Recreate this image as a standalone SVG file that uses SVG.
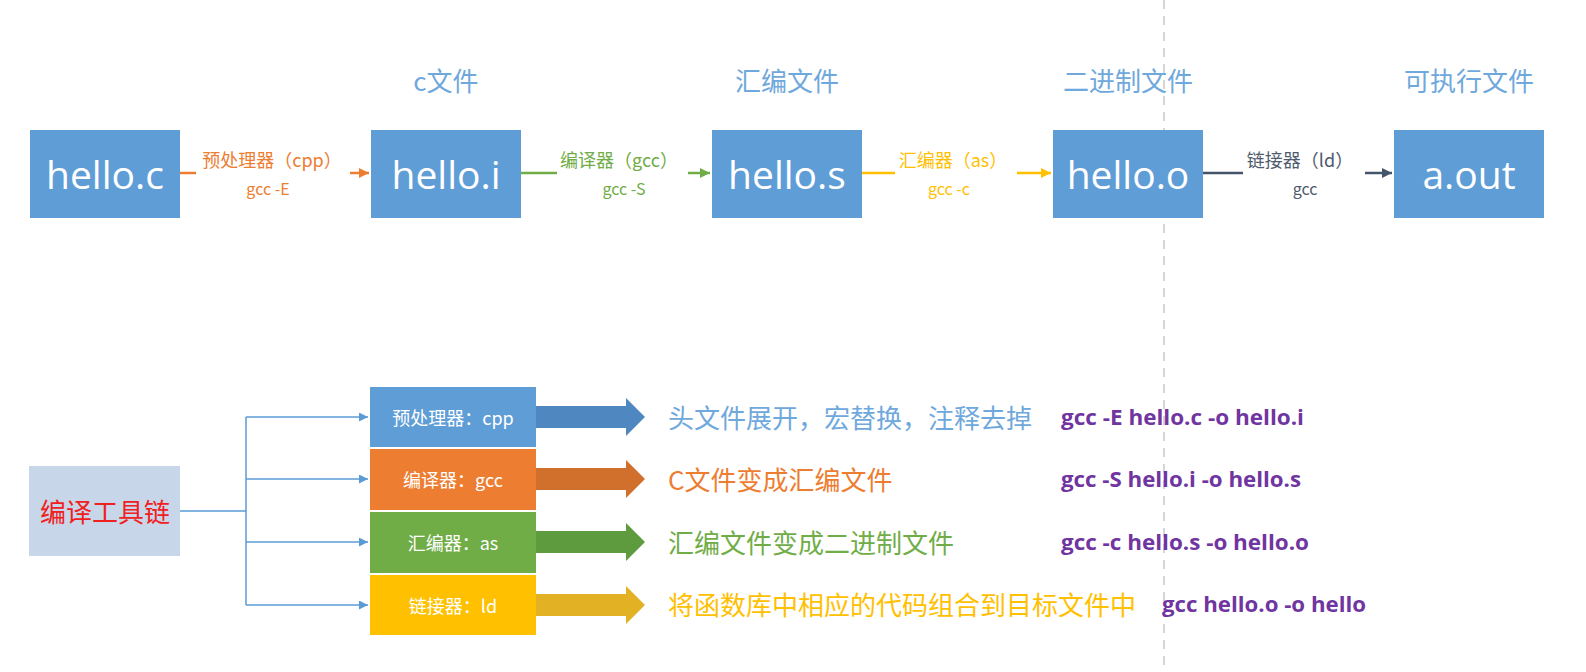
<svg xmlns="http://www.w3.org/2000/svg" width="1586" height="672" viewBox="0 0 1586 672">
<defs>
<style>
.box{fill:#5F9DD6}
.bt{font-family:"Open Sans","Liberation Sans",sans-serif;font-size:39px;fill:#fff;text-anchor:middle;dominant-baseline:central}
.top{font-family:"Noto Sans CJK SC",sans-serif;font-size:26px;fill:#6FA8DC;text-anchor:middle;dominant-baseline:central}
.lbl{font-family:"Noto Sans CJK SC",sans-serif;font-size:18px;text-anchor:middle;dominant-baseline:central}
.lbl2{font-family:"Noto Sans CJK SC",sans-serif;font-size:16px;text-anchor:middle;dominant-baseline:central}
.st{font-family:"Noto Sans CJK SC",sans-serif;font-size:18px;fill:#fff;text-anchor:middle;dominant-baseline:central}
.desc{font-family:"Noto Sans CJK SC",sans-serif;font-size:26px;dominant-baseline:central}
.cmd{font-family:"Open Sans","Liberation Sans",sans-serif;font-size:22px;font-weight:bold;fill:#7035A0;dominant-baseline:central}
.bl{stroke:#5B9BD5;stroke-width:1.5;fill:none}
</style>
<marker id="ao" viewBox="0 0 10 10" refX="10" refY="5" markerWidth="4" markerHeight="4" orient="auto"><path d="M0,0L10,5L0,10z" fill="#ED7D31"/></marker>
<marker id="ag" viewBox="0 0 10 10" refX="10" refY="5" markerWidth="4" markerHeight="4" orient="auto"><path d="M0,0L10,5L0,10z" fill="#70AD47"/></marker>
<marker id="ay" viewBox="0 0 10 10" refX="10" refY="5" markerWidth="4" markerHeight="4" orient="auto"><path d="M0,0L10,5L0,10z" fill="#FFC000"/></marker>
<marker id="ad" viewBox="0 0 10 10" refX="10" refY="5" markerWidth="4" markerHeight="4" orient="auto"><path d="M0,0L10,5L0,10z" fill="#44546A"/></marker>
<marker id="ab" viewBox="0 0 10 10" refX="10" refY="5" markerWidth="6" markerHeight="6" orient="auto"><path d="M0,0L10,5L0,10z" fill="#5B9BD5"/></marker>
</defs>
<rect width="1586" height="672" fill="#fff"/>
<line x1="1164" y1="0" x2="1164" y2="672" stroke="#bbb" stroke-width="1.2" stroke-dasharray="9,7"/>

<g id="n-helloc"><rect class="box" x="30" y="130" width="150" height="88"/><text class="bt" x="105" y="173">hello.c</text></g>
<g id="n-helloi"><text class="top" x="446" y="79">c文件</text><rect class="box" x="371" y="130" width="150" height="88"/><text class="bt" x="446" y="173">hello.i</text></g>
<g id="n-hellos"><text class="top" x="787" y="79">汇编文件</text><rect class="box" x="712" y="130" width="150" height="88"/><text class="bt" x="787" y="173">hello.s</text></g>
<g id="n-helloo"><text class="top" x="1128" y="79">二进制文件</text><rect class="box" x="1053" y="130" width="150" height="88"/><text class="bt" x="1128" y="173">hello.o</text></g>
<g id="n-aout"><text class="top" x="1469" y="79">可执行文件</text><rect class="box" x="1394" y="130" width="150" height="88"/><text class="bt" x="1469" y="173">a.out</text></g>

<g id="connectors">
<line x1="180" y1="173" x2="196" y2="173" stroke="#ED7D31" stroke-width="2.5"/>
<line x1="350" y1="173" x2="369" y2="173" stroke="#ED7D31" stroke-width="2.5" marker-end="url(#ao)"/>
<text class="lbl" x="272" y="159" fill="#ED7D31">预处理器（cpp）</text>
<text class="lbl2" x="268" y="188" fill="#ED7D31">gcc -E</text>

<line x1="521" y1="173" x2="557" y2="173" stroke="#70AD47" stroke-width="2.5"/>
<line x1="688" y1="173" x2="710" y2="173" stroke="#70AD47" stroke-width="2.5" marker-end="url(#ag)"/>
<text class="lbl" x="619" y="159" fill="#70AD47">编译器（gcc）</text>
<text class="lbl2" x="624" y="188" fill="#70AD47">gcc -S</text>

<line x1="862" y1="173" x2="895" y2="173" stroke="#FFC000" stroke-width="2.5"/>
<line x1="1017" y1="173" x2="1051" y2="173" stroke="#FFC000" stroke-width="2.5" marker-end="url(#ay)"/>
<text class="lbl" x="953" y="159" fill="#FFC000">汇编器（as）</text>
<text class="lbl2" x="949" y="188" fill="#FFC000">gcc -c</text>

<line x1="1203" y1="173" x2="1243" y2="173" stroke="#44546A" stroke-width="2.5"/>
<line x1="1365" y1="173" x2="1392" y2="173" stroke="#44546A" stroke-width="2.5" marker-end="url(#ad)"/>
<text class="lbl" x="1300" y="159" fill="#4F5B6E">链接器（ld）</text>
<text class="lbl2" x="1305" y="188" fill="#4F5B6E">gcc</text>

<path class="bl" d="M180,511H246M246,417V605"/>
<line class="bl" x1="246" y1="417" x2="368" y2="417" marker-end="url(#ab)"/>
<line class="bl" x1="246" y1="479" x2="368" y2="479" marker-end="url(#ab)"/>
<line class="bl" x1="246" y1="542" x2="368" y2="542" marker-end="url(#ab)"/>
<line class="bl" x1="246" y1="605" x2="368" y2="605" marker-end="url(#ab)"/>

<path d="M536,406H626V398L645,417L626,436V428H536z" fill="#4F87C0"/>
<path d="M536,468H626V460L645,479L626,498V490H536z" fill="#D0702C"/>
<path d="M536,531H626V523L645,542L626,561V553H536z" fill="#5E9A3E"/>
<path d="M536,594H626V586L645,605L626,624V616H536z" fill="#E3B224"/>
</g>

<g id="n-toolchain"><rect x="29" y="466" width="151" height="90" fill="#C8D6E9"/><text x="105" y="510" font-family="Noto Sans CJK SC,sans-serif" font-size="26" fill="#F02020" text-anchor="middle" dominant-baseline="central">编译工具链</text></g>
<g id="n-cpp"><rect x="370" y="387" width="166" height="60" fill="#5F9DD6"/><text class="st" x="453" y="417">预处理器：cpp</text></g>
<g id="n-gcc"><rect x="370" y="449" width="166" height="61" fill="#ED7D31"/><text class="st" x="453" y="479">编译器：gcc</text></g>
<g id="n-as"><rect x="370" y="512" width="166" height="61" fill="#70AD47"/><text class="st" x="453" y="542">汇编器：as</text></g>
<g id="n-ld"><rect x="370" y="575" width="166" height="60" fill="#FFC000"/><text class="st" x="453" y="605">链接器：ld</text></g>

<g id="descriptions">
<text class="desc" x="668" y="416" fill="#6FA8DC">头文件展开，宏替换，注释去掉</text>
<text class="desc" x="668" y="478" fill="#ED7D31">C文件变成汇编文件</text>
<text class="desc" x="668" y="541" fill="#70AD47">汇编文件变成二进制文件</text>
<text class="desc" x="668" y="603" fill="#FFC000">将函数库中相应的代码组合到目标文件中</text>
<text class="cmd" x="1061" y="416" textLength="243" lengthAdjust="spacingAndGlyphs">gcc -E hello.c -o hello.i</text>
<text class="cmd" x="1061" y="478" textLength="240" lengthAdjust="spacingAndGlyphs">gcc -S hello.i -o hello.s</text>
<text class="cmd" x="1061" y="541" textLength="248" lengthAdjust="spacingAndGlyphs">gcc -c hello.s -o hello.o</text>
<text class="cmd" x="1162" y="603" textLength="204" lengthAdjust="spacingAndGlyphs">gcc hello.o -o hello</text>
</g>
</svg>
